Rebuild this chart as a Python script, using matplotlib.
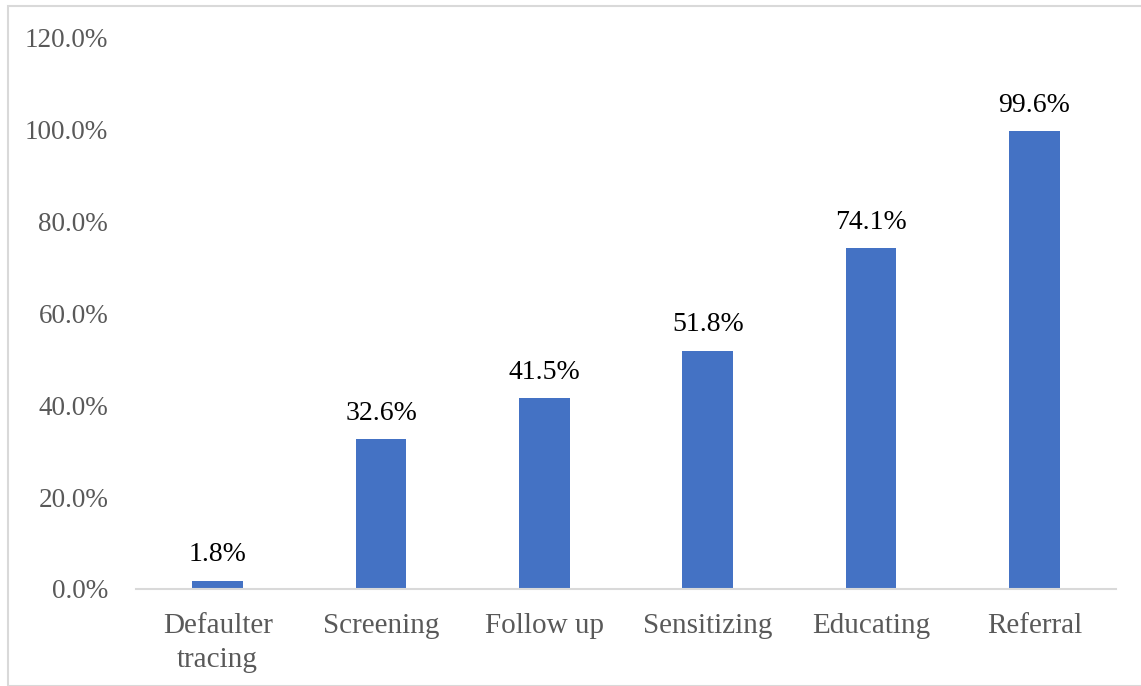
import matplotlib.pyplot as plt
from matplotlib.patches import Rectangle
from matplotlib.ticker import FuncFormatter

plt.rcParams['font.family'] = ['Liberation Serif', 'DejaVu Serif']

categories = ['Defaulter\ntracing', 'Screening', 'Follow up', 'Sensitizing', 'Educating', 'Referral']
values = [1.8, 32.6, 41.5, 51.8, 74.1, 99.6]
yticks = [0, 20, 40, 60, 80, 100, 120]

fig = plt.figure(figsize=(11.41, 6.86), dpi=100)
ax = fig.add_axes([0.1192, 0.1414, 0.859, 0.8046])

x = range(len(categories))
bars = ax.bar(x, values, width=0.31, color='#4472C4', zorder=2)

# value labels above each bar
for xi, v in zip(x, values):
    ax.text(xi, v + 2.9, f'{v:.1f}%', ha='center', va='bottom', fontsize=20, color='black')

ax.set_xlim(-0.5, len(categories) - 0.5)
ax.set_ylim(0, 120)
ax.set_yticks(yticks)
ax.yaxis.set_major_formatter(FuncFormatter(lambda v, p: f'{v:.1f}%'))
ax.set_xticks(list(x))
ax.set_xticklabels(categories, linespacing=1.4)

ax.tick_params(axis='both', length=0, labelcolor='#595959')
ax.tick_params(axis='y', pad=20, labelsize=19.5)
ax.tick_params(axis='x', pad=17, labelsize=21)

for side in ['top', 'right', 'left']:
    ax.spines[side].set_visible(False)
ax.spines['bottom'].set_color('#D9D9D9')
ax.spines['bottom'].set_linewidth(1.5)

# light outline around the chart area
fig.patches.append(Rectangle((8 / 1141, 0), 1.0, 1 - 6 / 686, transform=fig.transFigure,
                             fill=False, edgecolor='#D9D9D9', linewidth=1.5))

fig.savefig('out.png', dpi=100)
